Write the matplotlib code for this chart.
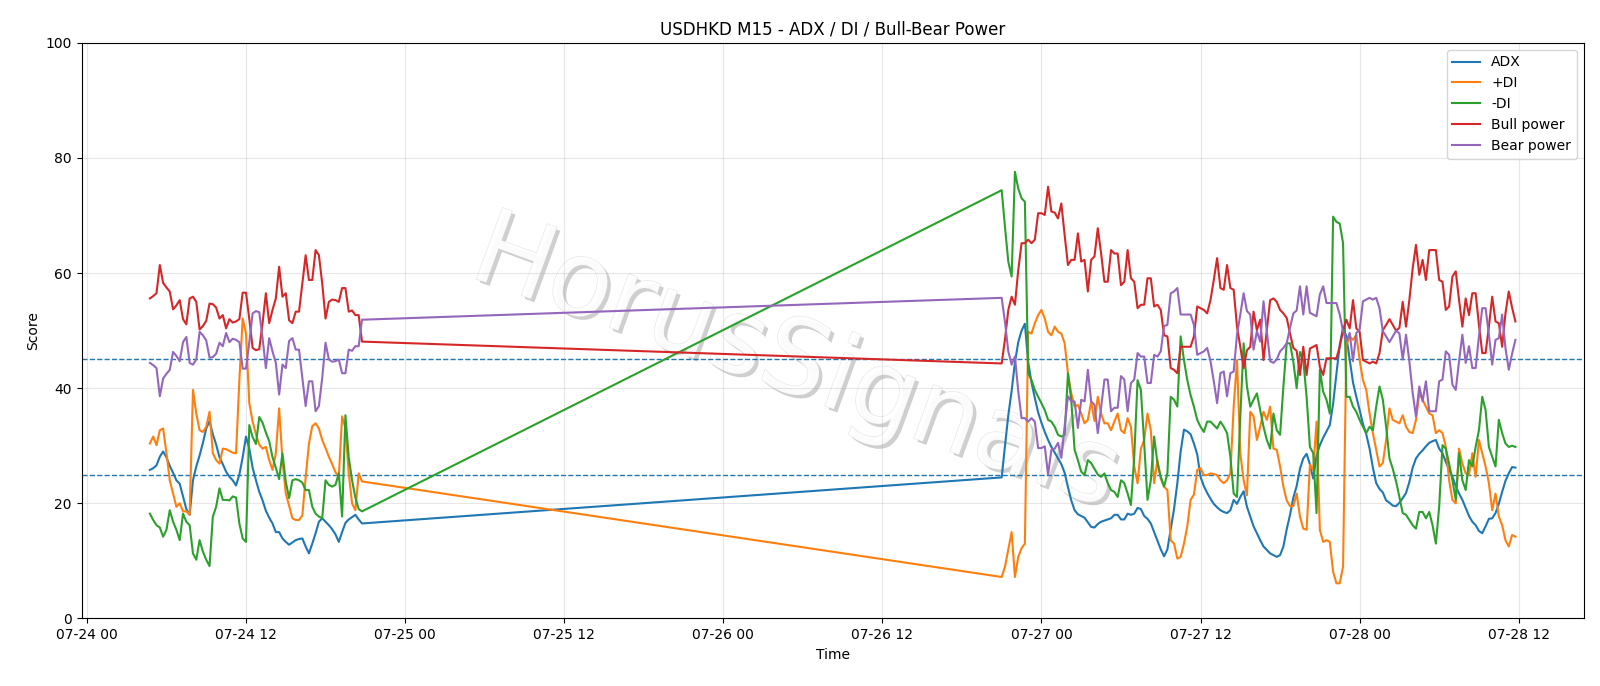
import matplotlib
matplotlib.use("Agg")
import matplotlib.pyplot as plt
import matplotlib.dates as mdates
import matplotlib.patheffects as pe
import pandas as pd

# ---- time axis: two M15 sessions (weekend gap in between) ----
seg1_start, seg1_n = "2026-07-24 04:45", 65
seg2_start, seg2_n = "2026-07-26 21:00", 156

# ---- ADX ----
adx_seg1 = [25.8, 26.1, 26.6, 28.1, 29.0, 28.0, 26.5, 25.3, 24.0, 23.4, 21.2, 19.0, 18.0, 24.0, 26.4, 28.3,
            30.5, 33.0, 34.3, 32.0, 30.2, 28.0, 26.8, 25.5, 24.6, 24.0, 23.1, 25.0, 28.0, 31.6, 29.5, 26.2,
            24.0, 22.0, 20.5, 18.7, 17.5, 16.5, 15.0, 15.0, 13.9, 13.3, 12.8, 13.2, 13.6, 13.8, 13.9, 12.5,
            11.3, 13.0, 14.8, 16.8, 17.4, 16.8, 16.2, 15.5, 14.6, 13.3, 15.0, 16.6, 17.2, 17.6, 18.0, 17.2, 16.5]
adx_seg2 = [24.5, 30.0, 35.3, 39.5, 44.5, 48.0, 50.0, 51.2, 44.5, 41.0, 38.3, 35.8, 34.0, 32.4, 31.0, 29.8,
            28.8, 27.8, 26.8, 25.3, 22.8, 20.5, 18.8, 18.1, 17.8, 17.5,
            16.7, 15.9, 15.8, 16.4,
            16.8, 17.0, 17.2, 17.4, 18.0, 18.0, 17.2, 17.2, 18.2, 18.0, 18.2, 19.2, 19.0, 17.8, 17.3, 16.5,
            15.0, 13.5, 12.0, 10.8, 12.0, 15.5, 19.0, 23.5, 29.0, 32.8,
            32.5, 32.0, 30.4, 28.5,
            24.6, 23.0, 21.8, 20.8, 19.9, 19.3, 18.8, 18.5, 18.3, 18.8, 20.6, 19.9, 21.1, 22.1, 19.4, 17.7,
            16.0, 14.8, 13.6, 12.5, 11.9, 11.3, 11.0, 10.7, 11.0, 12.5,
            15.5, 18.0, 21.0, 23.0,
            26.0, 27.8, 28.6, 26.8, 24.3, 28.3, 30.1, 31.4, 32.5, 33.6, 37.3, 42.5, 47.5, 50.5, 49.0, 45.0,
            41.0, 38.5, 36.2, 33.8, 32.0, 29.5, 26.2, 23.5, 22.5, 21.9,
            20.5, 20.1, 19.6, 19.5, 20.1, 20.9, 21.8, 23.7, 26.2, 27.8, 28.6, 29.2, 29.9, 30.5, 30.8, 31.0,
            29.5, 28.7, 27.2, 25.8, 24.6, 23.0, 21.7, 20.6, 19.2, 17.8, 16.8, 16.2, 15.2, 14.8, 16.0, 17.3,
            17.4, 18.3, 19.9, 22.0, 23.9, 25.2, 26.3, 26.2]

# ---- +DI ----
pdi_seg1 = [30.4, 31.6, 30.1, 32.7, 33.0, 28.7, 24.0, 21.7, 19.4, 20.0, 18.6, 18.6, 18.0, 39.7, 35.6, 32.7,
            32.4, 33.3, 35.9, 28.7, 27.5, 26.9, 29.5, 29.4, 29.1, 28.8, 28.7, 41.4, 52.1, 49.5, 37.4, 34.2,
            32.0, 30.2, 29.5, 29.8, 27.5, 25.8, 28.7, 36.5, 27.5, 21.7, 19.6, 17.4, 17.1, 17.1, 17.9, 24.5,
            30.4, 33.4, 33.9, 33.0, 31.0, 29.6, 28.1, 26.8, 25.4, 24.6, 35.1, 33.0, 25.2, 20.0, 18.8, 25.2, 23.8]
pdi_seg2 = [7.2, 9.0, 12.0, 15.0, 7.2, 10.7, 12.2, 13.0, 49.8, 49.5, 51.3, 52.7, 53.6, 52.1, 49.8, 49.2,
            50.7, 49.8, 49.5, 47.8, 42.6, 39.1, 36.8, 37.1, 35.6, 33.9,
            34.5, 37.7, 34.3, 38.5,
            35.6, 33.9, 33.9, 32.7, 34.2, 35.6, 32.7, 32.2, 34.8, 33.3, 26.4, 23.5, 29.5, 31.0, 35.6, 32.7,
            23.5, 27.5, 24.3, 22.9, 22.3, 13.6, 13.0, 10.4, 10.7, 13.0,
            16.0, 20.6, 21.5, 25.8,
            26.1, 24.9, 24.9, 25.2, 25.1, 24.9, 24.0, 23.5, 24.0, 25.2, 36.8, 44.9, 28.7, 24.0, 21.4, 35.9,
            35.1, 31.0, 33.3, 35.9, 34.5, 36.8, 29.5, 29.3, 26.4, 22.9,
            20.5, 19.5, 19.5, 21.7,
            17.7, 15.6, 15.4, 26.7, 25.8, 34.2, 15.4, 13.3, 13.6, 13.3, 8.1, 6.1, 6.1, 9.0, 47.5, 49.0,
            48.4, 49.3, 44.9, 41.4, 39.7, 35.6, 32.2, 29.3, 26.4, 27.0,
            31.0, 36.5, 34.5, 34.2, 33.9, 35.3, 33.3, 32.4, 32.2, 34.5, 39.1, 38.0, 36.8, 35.6, 35.3, 32.2,
            32.7, 32.2, 29.8, 24.0, 20.6, 20.0, 29.5, 26.9, 25.2, 24.9, 28.7, 24.6, 31.0, 28.7, 26.4, 23.5,
            18.8, 21.7, 17.7, 16.2, 13.6, 12.5, 14.5, 14.2]

# ---- -DI ----
mdi_seg1 = [18.2, 17.1, 16.2, 15.8, 14.2, 15.4, 18.8, 16.8, 15.4, 13.6, 18.2, 16.8, 16.2, 11.3, 10.2, 13.6,
            11.6, 10.2, 9.1, 17.7, 19.4, 22.6, 20.6, 20.6, 20.5, 21.2, 21.0, 16.5, 13.9, 13.3, 33.6, 31.5,
            30.3, 35.0, 34.0, 32.3, 30.8, 28.0, 26.2, 24.2, 28.7, 23.8, 20.9, 24.0, 24.2, 24.0, 23.6, 22.3,
            22.3, 19.4, 18.2, 17.7, 17.4, 24.0, 23.2, 22.9, 23.2, 25.2, 17.7, 35.3, 28.0, 24.0, 21.0, 19.0, 18.6]
mdi_seg2 = [74.4, 68.0, 62.0, 59.4, 77.6, 74.7, 73.0, 72.4, 42.6, 41.4, 39.7, 38.5, 37.4, 36.2, 34.5, 34.2,
            33.3, 31.9, 31.6, 31.9, 42.6, 37.9, 29.3, 27.5, 25.5, 24.9,
            27.5, 27.0, 26.0, 25.0,
            24.6, 25.2, 23.5, 22.3, 22.0, 21.1, 24.0, 23.5, 21.7, 19.7, 28.1, 41.4, 39.7, 30.4, 20.6, 24.0,
            31.6, 27.0, 24.6, 22.9, 25.2, 38.5, 38.0, 36.8, 49.0, 44.9,
            41.4, 38.8, 36.8, 34.5,
            33.3, 32.4, 34.2, 34.2, 33.6, 33.0, 34.2, 33.3, 32.2, 28.1, 21.7, 21.1, 35.1, 47.8, 40.3, 36.8,
            38.0, 39.1, 36.2, 33.3, 31.0, 29.5, 35.6, 32.7, 31.9, 40.3,
            47.8, 47.8, 44.6, 40.0,
            46.3, 44.9, 38.5, 29.8, 28.7, 18.3, 43.2, 39.4, 38.0, 35.6, 69.8, 68.9, 68.6, 65.2, 38.5, 38.5,
            36.8, 35.9, 34.5, 33.3, 32.2, 33.3, 32.7, 36.8, 40.3, 38.0,
            33.3, 27.8, 26.0, 23.8, 21.1, 18.3, 18.0, 17.1, 16.2, 15.6, 18.5, 18.5, 17.4, 18.5, 16.2, 13.0,
            19.4, 30.1, 29.5, 26.9, 24.0, 20.6, 28.7, 24.0, 22.3, 27.5, 26.4, 29.8, 32.7, 38.5, 36.2, 29.8,
            28.1, 26.4, 34.5, 32.2, 30.4, 29.8, 30.0, 29.8]

# ---- Bull power ----
bull_seg1 = [55.6, 56.0, 56.5, 61.4, 58.3, 57.5, 56.8, 53.7, 54.4, 55.3, 52.0, 51.1, 55.6, 55.9, 55.0, 50.2,
             50.8, 51.7, 54.7, 54.6, 54.0, 52.1, 52.7, 50.4, 52.0, 51.4, 51.6, 52.0, 56.6, 56.6, 52.0, 47.0,
             46.6, 46.8, 51.3, 56.5, 51.3, 53.6, 55.6, 61.1, 55.9, 56.5, 51.8, 51.3, 53.3, 53.3, 58.2, 63.1,
             58.8, 58.8, 64.0, 63.1, 58.2, 52.1, 55.0, 55.4, 55.3, 55.0, 57.4, 57.4, 53.3, 53.5, 52.7, 52.7, 48.1]
bull_seg2 = [44.3, 48.5, 53.6, 55.9, 54.5, 60.5, 65.2, 65.2, 65.8, 65.2, 65.8, 70.4, 70.4, 70.1, 75.0, 70.7,
             70.5, 69.5, 72.1, 66.6, 61.4, 62.3, 62.3, 66.9, 62.0, 62.3,
             56.8, 62.3, 62.9, 67.8,
             63.4, 58.5, 58.5, 64.0, 63.4, 63.4, 57.9, 58.5, 64.0, 59.1, 58.5, 53.9, 54.5, 54.5, 59.1, 59.1,
             54.2, 54.5, 53.6, 49.2, 49.0, 43.5, 43.2, 42.6, 47.2, 47.2,
             47.2, 47.2, 49.0, 54.2,
             53.9, 53.6, 53.0, 55.3, 58.8, 62.6, 57.4, 57.1, 61.4, 57.4, 57.1, 50.7, 47.2, 43.5, 46.6, 47.2,
             53.3, 50.1, 51.9, 44.9, 50.1, 55.3, 55.6, 55.0, 53.6, 53.0,
             52.2, 49.5, 47.0, 46.5,
             42.3, 47.2, 42.3, 46.9, 47.2, 47.5, 43.7, 42.3, 45.2, 45.2, 45.2, 45.2, 47.2, 50.1, 51.9, 50.4,
             55.3, 50.4, 49.8, 44.9, 44.6, 44.3, 44.6, 44.3, 46.1, 50.1,
             51.0, 52.0, 51.0, 50.0, 50.5, 55.0, 50.7, 55.3, 60.8, 64.9, 59.7, 62.3, 58.8, 64.0, 64.0, 64.0,
             58.8, 58.5, 53.6, 54.2, 59.4, 60.3, 55.3, 50.7, 55.6, 52.7, 56.5, 56.5, 51.0, 46.1, 46.1, 50.7,
             55.9, 51.6, 51.3, 47.2, 53.0, 56.8, 54.0, 51.6]

# ---- Bear power ----
bear_seg1 = [44.4, 44.0, 43.5, 38.6, 41.7, 42.5, 43.2, 46.3, 45.6, 44.7, 48.0, 48.9, 44.4, 44.1, 45.0, 49.8,
             49.2, 48.3, 45.3, 45.4, 46.0, 47.9, 47.3, 49.6, 48.0, 48.6, 48.4, 48.0, 43.4, 43.4, 48.0, 53.0,
             53.4, 53.2, 48.7, 43.5, 48.7, 46.4, 44.4, 38.9, 44.1, 43.5, 48.2, 48.7, 46.7, 46.7, 41.8, 36.9,
             41.2, 41.2, 36.0, 36.9, 41.8, 47.9, 45.0, 44.6, 44.7, 45.0, 42.6, 42.6, 46.7, 46.5, 47.3, 47.3, 51.9]
bear_seg2 = [55.7, 51.5, 46.4, 44.1, 45.5, 39.5, 34.8, 34.8, 34.2, 34.8, 34.2, 29.6, 29.6, 29.9, 25.0, 29.3,
             29.5, 30.5, 27.9, 33.4, 38.6, 37.7, 37.7, 33.1, 38.0, 37.7,
             43.2, 37.7, 37.1, 32.2,
             36.6, 41.5, 41.5, 36.0, 36.6, 36.6, 42.1, 41.5, 36.0, 40.9, 41.5, 46.1, 45.5, 45.5, 40.9, 40.9,
             45.8, 45.5, 46.4, 50.8, 51.0, 56.5, 56.8, 57.4, 52.8, 52.8,
             52.8, 52.8, 51.0, 45.8,
             46.1, 46.4, 47.0, 44.7, 41.2, 37.4, 42.6, 42.9, 38.6, 42.6, 42.9, 49.3, 52.8, 56.5, 53.4, 52.8,
             46.7, 49.9, 48.1, 55.1, 49.9, 44.7, 44.4, 45.0, 46.4, 47.0,
             47.8, 50.5, 53.0, 53.5,
             57.7, 52.8, 57.7, 53.1, 52.8, 52.5, 56.3, 57.7, 54.8, 54.8, 54.8, 54.8, 52.8, 49.9, 48.1, 49.6,
             44.7, 49.6, 50.2, 55.1, 55.4, 55.7, 55.4, 55.7, 53.9, 49.9,
             49.0, 48.0, 49.0, 50.0, 49.5, 45.0, 49.3, 44.7, 39.2, 35.1, 40.3, 37.7, 41.2, 36.0, 36.0, 36.0,
             41.2, 41.5, 46.4, 45.8, 40.6, 39.7, 44.7, 49.3, 44.4, 47.3, 43.5, 43.5, 49.0, 53.9, 53.9, 49.3,
             44.1, 48.4, 48.7, 52.8, 47.0, 43.2, 46.0, 48.4]

levels = [45, 25]

times = pd.date_range(seg1_start, periods=seg1_n, freq="15min").append(
    pd.date_range(seg2_start, periods=seg2_n, freq="15min"))

series = [
    ("ADX", adx_seg1 + adx_seg2),
    ("+DI", pdi_seg1 + pdi_seg2),
    ("-DI", mdi_seg1 + mdi_seg2),
    ("Bull power", bull_seg1 + bull_seg2),
    ("Bear power", bear_seg1 + bear_seg2),
]

fig = plt.figure(figsize=(16, 6.86), dpi=100)
ax = fig.add_axes([0.051, 0.0985, 0.9388, 0.839])

for i, (name, vals) in enumerate(series):
    ax.plot(times, vals, color=f"C{i}", lw=1.5, label=name, zorder=2)

for lv in levels:
    ax.axhline(lv, color="C0", ls="--", lw=1, zorder=1.5)

ax.set_ylim(0, 100)
ax.xaxis.set_major_locator(mdates.HourLocator(byhour=[0, 12]))
ax.xaxis.set_major_formatter(mdates.DateFormatter("%m-%d %H"))
ax.grid(True, alpha=0.3)
ax.set_title("USDHKD M15 - ADX / DI / Bull-Bear Power", fontsize=12)
ax.set_xlabel("Time")
ax.set_ylabel("Score")
ax.legend(loc="upper right")

ax.text(0.4975, 0.468, "HorusSignals", transform=fig.transFigure, fontsize=75,
        rotation=-20, ha="center", va="center", color="white", alpha=0.75, zorder=1,
        path_effects=[pe.SimplePatchShadow(offset=(2.5, -2.5), shadow_rgbFace="#a8a8a8", alpha=0.55),
                      pe.Stroke(linewidth=0.6, foreground="#d6d6d6"), pe.Normal()])

fig.savefig("out.png", dpi=100)
